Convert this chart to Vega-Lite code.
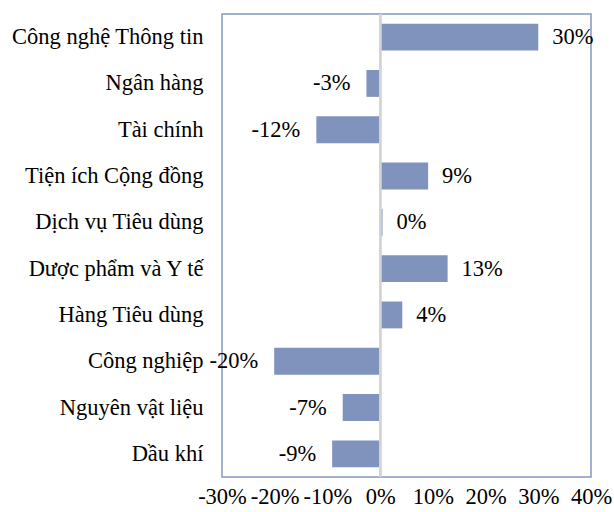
{
  "$schema": "https://vega.github.io/schema/vega-lite/v6.json",
  "width": 369,
  "height": 463,
  "autosize": "none",
  "padding": {"left": 222, "top": 14, "right": 23, "bottom": 35},
  "background": "white",
  "config": {
    "view": {"stroke": "#8497c4", "strokeWidth": 1.5},
    "font": "Liberation Serif",
    "locale": {
      "number": {"decimal": ".", "thousands": ",", "grouping": [3], "currency": ["$", ""], "minus": "-"}
    }
  },
  "data": {
    "values": [
      {"sector": "Công nghệ Thông tin", "value": 0.30},
      {"sector": "Ngân hàng", "value": -0.026},
      {"sector": "Tài chính", "value": -0.121},
      {"sector": "Tiện ích Cộng đồng", "value": 0.091},
      {"sector": "Dịch vụ Tiêu dùng", "value": 0.0045},
      {"sector": "Dược phẩm và Y tế", "value": 0.128},
      {"sector": "Hàng Tiêu dùng", "value": 0.042},
      {"sector": "Công nghiệp", "value": -0.201},
      {"sector": "Nguyên vật liệu", "value": -0.071},
      {"sector": "Dầu khí", "value": -0.091}
    ]
  },
  "encoding": {
    "y": {
      "field": "sector",
      "type": "nominal",
      "sort": null,
      "scale": {"paddingInner": 0.42, "paddingOuter": 0.21},
      "axis": {
        "title": null,
        "domain": false,
        "ticks": false,
        "labelFont": "Liberation Serif",
        "labelFontSize": 22.5,
        "labelColor": "#000000",
        "labelPadding": 19,
        "labelLimit": 300
      }
    },
    "x": {
      "field": "value",
      "type": "quantitative",
      "scale": {"domain": [-0.3, 0.4], "nice": false},
      "axis": {
        "title": null,
        "format": ".0%",
        "values": [-0.3, -0.2, -0.1, 0, 0.1, 0.2, 0.3, 0.4],
        "grid": false,
        "domain": false,
        "ticks": false,
        "labelFont": "Liberation Serif",
        "labelFontSize": 22.5,
        "labelColor": "#000000",
        "labelPadding": 8,
        "labelFlush": false,
        "labelOverlap": false
      }
    }
  },
  "layer": [
    {
      "mark": {"type": "bar", "color": "#7f93bd"}
    },
    {
      "mark": {"type": "rule", "color": "#d4d4d4", "strokeWidth": 2},
      "encoding": {"x": {"datum": 0}, "y": null}
    },
    {
      "transform": [{"filter": "datum.value >= 0"}],
      "mark": {"type": "text", "align": "left", "baseline": "middle", "dx": 14, "fontSize": 22.5, "color": "#000000", "font": "Liberation Serif"},
      "encoding": {"text": {"field": "value", "format": ".0%"}}
    },
    {
      "transform": [{"filter": "datum.value < 0"}],
      "mark": {"type": "text", "align": "right", "baseline": "middle", "dx": -16, "fontSize": 22.5, "color": "#000000", "font": "Liberation Serif"},
      "encoding": {"text": {"field": "value", "format": ".0%"}}
    }
  ]
}
